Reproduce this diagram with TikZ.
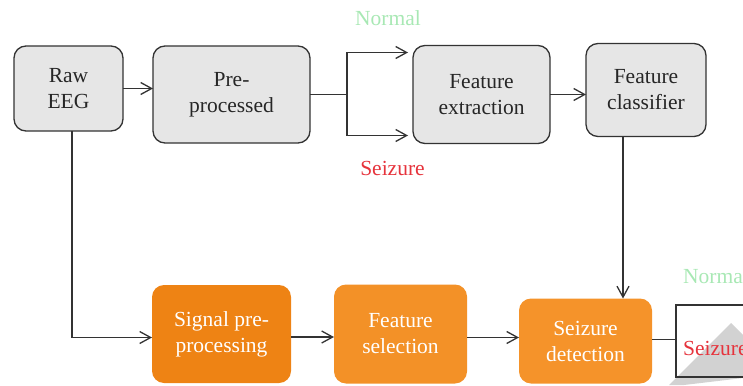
\documentclass[tikz,border=0pt]{standalone}
\usepackage{fontspec}
\setmainfont{Liberation Serif}
\usepackage{tikz}
\usetikzlibrary{arrows.meta, positioning}

\definecolor{boxgray}{HTML}{E6E6E6}
\definecolor{linegray}{HTML}{333333}
\definecolor{sigorange}{HTML}{EE8314}
\definecolor{selorange}{HTML}{F39127}
\definecolor{detorange}{HTML}{F5932A}
\definecolor{normalgreen}{HTML}{A8E8B4}
\definecolor{seizurered}{HTML}{E6333C}

\begin{document}
\begin{tikzpicture}[
        x=1pt, y=-1pt,
        font=\fontsize{21.5}{26}\selectfont,
        gbox/.style={rectangle, draw=linegray, line width=1.3pt, rounded corners=12pt, fill=boxgray, inner sep=0pt, outer sep=0pt, align=center, text=black!85},
        obox/.style={rectangle, rounded corners=12pt, inner sep=0pt, outer sep=0pt, align=center, text=white},
        conn/.style={draw=linegray, line width=1.3pt},
        arr/.style={conn, -{Straight Barb[length=11pt, width=12pt, line width=1.3pt]}},
        normallbl/.style={text=normalgreen, inner sep=0pt},
        seizurelbl/.style={text=seizurered, inner sep=0pt},
    ]
    \clip (0,0) rectangle (743,385);
    % watermark corner
    \fill[gray!35] (731,323) -- (743,335) -- (743,378) -- (684,385) -- (669,385) -- cycle;

    \node[gbox, minimum width=109pt, minimum height=85pt] (raw) at (68.5,88.5) {Raw\\ EEG};
    \node[gbox, minimum width=157pt, minimum height=97pt, right=30pt of raw, yshift=-6pt] (pre) {Pre-\\ processed};
    \node[gbox, minimum width=137pt, minimum height=98pt, right=103pt of pre] (feat) {Feature\\ extraction};
    \node[gbox, minimum width=120pt, minimum height=93pt, right=36pt of feat, yshift=4.5pt] (cls) {Feature\\ classifier};

    \node[obox, fill=sigorange, minimum width=139pt, minimum height=98pt] (sig) at (221.5,334) {Signal pre-\\ processing};
    \node[obox, fill=selorange, minimum width=133pt, minimum height=99pt, right=43pt of sig] (sel) {Feature\\ selection};
    \node[obox, fill=detorange, minimum width=133pt, minimum height=85pt, right=52pt of sel, yshift=-7pt] (det) {Seizure\\ detection};

    \coordinate[right=37pt of pre] (split);
    \coordinate[right=24pt of det, yshift=1.5pt] (split2);
    \coordinate (outtop) at (760,305);
    \coordinate (outbot) at (760,377);

    \node[normallbl] (normal) at (388,18) {Normal};
    \node[seizurelbl] (seizure) at (392.5,168) {Seizure};
    \node[normallbl, anchor=base west] (normal2) at (683,283) {Normal};
    \node[seizurelbl, anchor=base west] (seizure2) at (683,355) {Seizure};

    \draw[arr] (raw) -- (pre.west |- raw);
    \draw[conn] (pre) -- (split);
    \draw[arr] (split) |- ([xshift=-5pt, yshift=-7pt]feat.north west);
    \draw[arr] (split) |- ([xshift=-5pt, yshift=8pt]feat.south west);
    \draw[arr] (feat) -- (cls.west |- feat);
    \draw[arr] ([xshift=-23pt]cls.south) -- ([xshift=-23pt]cls.south |- det.north);

    \draw[arr] ([xshift=3.5pt]raw.south) |- ([yshift=-3.5pt]sig.west);
    \draw[arr] ([yshift=-3pt]sig.east) -- ([yshift=-3pt]sig.east -| sel.west);
    \draw[arr] ([yshift=-3.5pt]sel.east) -- ([yshift=-3.5pt]sel.east -| det.west);
    \draw[conn] (det.east |- split2) -- (split2);
    \draw[conn] (split2) |- (outtop);
    \draw[conn] (split2) |- (outbot);
\end{tikzpicture}
\end{document}
